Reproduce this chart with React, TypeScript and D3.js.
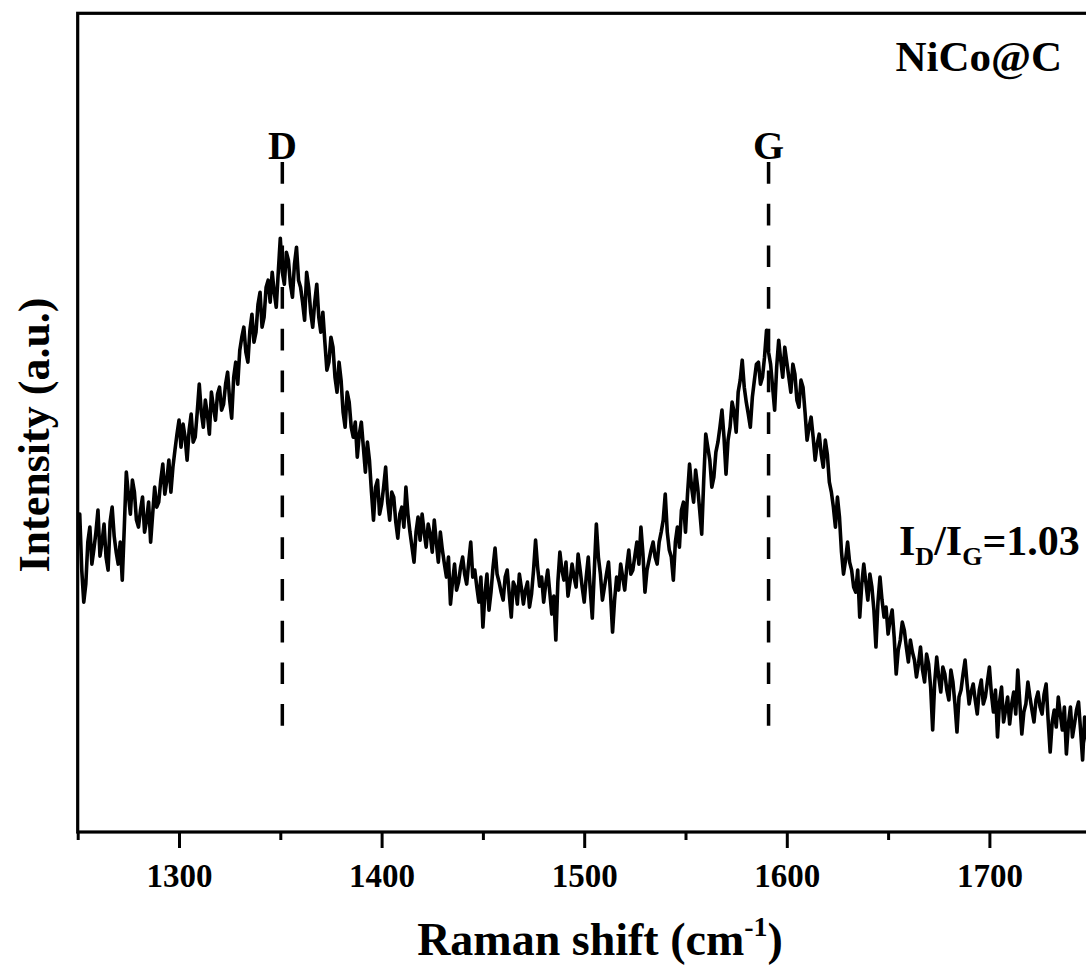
import React, { useEffect, useRef } from 'react';
import * as d3 from 'd3';

// Raman shift sampling (cm^-1): even points 1250..1750, odd points 1251..1749
const evenShifts: number[] = d3.range(1250, 1751, 2);
const oddShifts: number[] = d3.range(1251, 1750, 2);

// Intensity (a.u.) at the even wavenumbers
const intensityEven: number[] = [
  300, 262, 248, 305, 283, 322, 290, 275, 310, 296,
  268, 252, 360, 318, 340, 305, 335, 312, 290, 345,
  330, 368, 352, 340, 382, 412, 408, 372, 418, 395,
  448, 405, 418, 440, 412, 445, 428, 460, 414, 470,
  482, 505, 470, 518, 500, 540, 515, 552, 560, 525,
  594, 548, 572, 535, 585, 545, 512, 545, 505, 548,
  500, 490, 470, 485, 440, 452, 405, 430, 395, 375,
  410, 360, 372, 312, 352, 328, 365, 312, 335, 294,
  325, 345, 300, 270, 315, 318, 285, 298, 312, 270,
  282, 255, 228, 268, 250, 275, 248, 290, 262, 230,
  205, 258, 240, 284, 250, 232, 262, 215, 245, 258,
  228, 250, 238, 292, 246, 230, 262, 218, 192, 280,
  252, 236, 268, 245, 262, 230, 275, 214, 308, 258,
  245, 270, 200, 255, 268, 242, 282, 262, 290, 305,
  240, 272, 290, 268, 300, 338, 282, 252, 305, 322,
  300, 368, 330, 345, 298, 398, 372, 355, 390, 422,
  358, 405, 420, 440, 472, 430, 405, 452, 470, 455,
  502, 468, 422, 492, 455, 470, 440, 458, 425, 445,
  392, 415, 372, 398, 365, 378, 340, 305, 315, 258,
  290, 262, 240, 215, 268, 232, 245, 185, 255, 215,
  198, 222, 158, 192, 202, 170, 180, 155, 185, 150,
  168, 102, 175, 140, 158, 132, 150, 100, 142, 172,
  128, 148, 118, 152, 135, 165, 120, 95, 145, 122,
  108, 140, 162, 98, 128, 135, 110, 140, 118, 148,
  80, 122, 135, 102, 78, 125, 108, 130, 72, 98,
  88,
];

// Intensity (a.u.) at the odd wavenumbers
const intensityOdd: number[] = [
  318, 230, 290, 268, 300, 276, 308, 262, 325, 280,
  290, 305, 338, 352, 312, 322, 300, 330, 318, 325,
  352, 338, 372, 365, 398, 385, 395, 402, 390, 420,
  420, 432, 398, 425, 438, 422, 448, 432, 455, 448,
  495, 480, 502, 490, 528, 505, 545, 530, 540, 560,
  560, 580, 548, 568, 552, 530, 560, 520, 530, 515,
  520, 462, 495, 455, 470, 420, 440, 405, 410, 398,
  385, 390, 340, 345, 318, 345, 330, 340, 310, 318,
  305, 318, 285, 300, 292, 300, 308, 280, 290, 300,
  268, 275, 250, 242, 265, 258, 270, 255, 245, 255,
  238, 222, 265, 258, 240, 255, 238, 250, 228, 244,
  242, 225, 262, 265, 255, 248, 240, 236, 250, 262,
  270, 250, 255, 278, 245, 255, 242, 262, 275, 232,
  258, 238, 232, 242, 255, 265, 258, 276, 268, 278,
  262, 282, 275, 290, 312, 300, 275, 290, 285, 330,
  338, 345, 362, 322, 352, 385, 345, 380, 405, 395,
  392, 430, 400, 452, 445, 418, 435, 468, 448, 475,
  480, 445, 465, 472, 485, 455, 468, 432, 452, 420,
  405, 395, 388, 378, 392, 350, 325, 335, 280, 272,
  270, 245, 262, 248, 250, 258, 222, 230, 232, 225,
  212, 195, 182, 210, 185, 192, 172, 168, 162, 178,
  145, 150, 155, 165, 142, 162, 128, 135, 158, 148,
  140, 132, 142, 128, 150, 138, 142, 130, 110, 135,
  128, 118, 130, 120, 150, 122, 132, 125, 138, 112,
  110, 105, 118, 125, 108, 95, 122, 102, 115, 82,
];

const majorTicks: number[] = [1300, 1400, 1500, 1600, 1700];
const minorTicks: number[] = [1250, 1350, 1450, 1550, 1650, 1750];
const peakLabels: string[] = ['D', 'G'];
const peakPositions: number[] = [1351, 1591];
const sampleName = 'NiCo@C';
const ratioValue = '1.03';

const FONT = '"Liberation Serif", "Times New Roman", Times, serif';

export default function App() {
  const axRef = useRef<SVGGElement>(null);
  const W = 1086;
  const H = 970;
  const left = 77.7;
  const right = 1090.7;
  const top = 13.3;
  const bottom = 832;

  const x = d3.scaleLinear().domain([1250, 1750]).range([left, right]);
  const y = d3.scaleLinear().domain([0, 819]).range([bottom, top]);

  const pts: [number, number][] = [
    ...evenShifts.map((w, i) => [w, intensityEven[i]] as [number, number]),
    ...oddShifts.map((w, i) => [w, intensityOdd[i]] as [number, number]),
  ].sort((a, b) => a[0] - b[0]);

  const line = d3
    .line<[number, number]>()
    .x((d) => x(d[0]))
    .y((d) => y(d[1]));

  useEffect(() => {
    if (!axRef.current) return;
    const g = d3.select(axRef.current);
    g.selectAll('*').remove();

    const minor = g
      .append('g')
      .attr('transform', `translate(0,${bottom})`)
      .call(d3.axisBottom(x).tickValues(minorTicks).tickSize(8).tickFormat(() => ''));
    minor.select('.domain').remove();
    minor.selectAll('line').attr('stroke', '#000').attr('stroke-width', 3);

    const major = g
      .append('g')
      .attr('transform', `translate(0,${bottom})`)
      .call(d3.axisBottom(x).tickValues(majorTicks).tickSize(16).tickFormat(d3.format('d')));
    major.select('.domain').remove();
    major.selectAll('line').attr('stroke', '#000').attr('stroke-width', 3);
    major
      .selectAll('text')
      .attr('y', 55)
      .attr('dy', 0)
      .attr('fill', '#000')
      .style('font-family', FONT)
      .style('font-size', '33px')
      .style('font-weight', 'bold');
  });

  return (
    <svg
      width={W}
      height={H}
      style={{ position: 'absolute', left: 0, top: 0, background: '#fff' }}
    >
      <defs>
        <clipPath id="plotclip">
          <rect x={left} y={top} width={right - left} height={bottom - top} />
        </clipPath>
      </defs>
      <rect x={0} y={0} width={W} height={H} fill="#fff" />

      {peakPositions.map((p, i) => (
        <g key={peakLabels[i]}>
          <line
            x1={x(p)}
            x2={x(p)}
            y1={162}
            y2={727}
            stroke="#000"
            strokeWidth={3.5}
            strokeDasharray="21.7 20"
          />
          <text
            x={x(p)}
            y={159}
            textAnchor="middle"
            fontFamily={FONT}
            fontWeight="bold"
            fontSize={40}
            fill="#000"
          >
            {peakLabels[i]}
          </text>
        </g>
      ))}

      <path
        d={line(pts) || ''}
        fill="none"
        stroke="#000"
        strokeWidth={3.6}
        strokeLinejoin="round"
        clipPath="url(#plotclip)"
      />

      <rect
        x={left}
        y={top}
        width={right - left}
        height={bottom - top}
        fill="none"
        stroke="#000"
        strokeWidth={3.2}
      />
      <g ref={axRef} />

      <text
        x={1062}
        y={71}
        textAnchor="end"
        fontFamily={FONT}
        fontWeight="bold"
        fontSize={43}
        fill="#000"
      >
        {sampleName}
      </text>

      <text x={899} y={555} fontFamily={FONT} fontWeight="bold" fontSize={42} fill="#000">
        I
        <tspan fontSize={26} dy={10}>D</tspan>
        <tspan dy={-10}>/I</tspan>
        <tspan fontSize={26} dy={10}>G</tspan>
        <tspan dy={-10}>={ratioValue}</tspan>
      </text>

      <text
        x={600}
        y={955}
        textAnchor="middle"
        fontFamily={FONT}
        fontWeight="bold"
        fontSize={46}
        fill="#000"
      >
        Raman shift (cm
        <tspan fontSize={28} dy={-19}>-1</tspan>
        <tspan dy={19}>)</tspan>
      </text>

      <text
        transform={`translate(49,435) rotate(-90)`}
        textAnchor="middle"
        fontFamily={FONT}
        fontWeight="bold"
        fontSize={44}
        fill="#000"
      >
        Intensity (a.u.)
      </text>
    </svg>
  );
}
